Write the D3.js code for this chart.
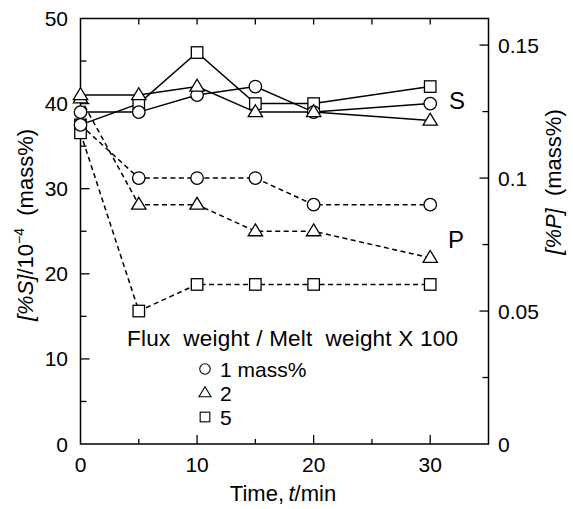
<!DOCTYPE html>
<html><head><meta charset="utf-8">
<script src="https://cdn.jsdelivr.net/npm/d3@7"></script>
<style>
body{margin:0;background:#fff;}
svg{display:block;font-family:"Liberation Sans",Arial,Helvetica,sans-serif;}
</style></head>
<body><svg id="c" width="573" height="509"></svg>
<script>
const time = [0, 5, 10, 15, 20, 30];
const S1 = [39, 39, 41, 42, 39, 40];
const S2 = [41, 41, 42, 39, 39, 38];
const S5 = [37.5, 40, 46, 40, 40, 42];
const P1 = [0.12, 0.10, 0.10, 0.10, 0.09, 0.09];
const P2 = [0.13, 0.09, 0.09, 0.08, 0.08, 0.07];
const P5 = [0.117, 0.05, 0.06, 0.06, 0.06, 0.06];
const xTicks = [0, 10, 20, 30];
const yLeftTicks = [0, 10, 20, 30, 40, 50];
const yRightTicks = [0, 0.05, 0.1, 0.15];
const yRightLabels = ["0", "0.05", "0.1", "0.15"];
const legendTitle = "Flux\u00a0 weight / Melt\u00a0 weight X 100";
const legendItems = [["circle", "1 mass%"], ["triangle", "2"], ["square", "5"]];

const svg = d3.select("#c");
const L = 80.5, R = 488.5, T = 18.5, B = 444;
const x = d3.scaleLinear().domain([0, 35]).range([L, R]);
const yS = d3.scaleLinear().domain([0, 50]).range([B, T]);
const yP = d3.scaleLinear().domain([0, 0.16]).range([B, T]);
const fs = 21;

// frame
svg.append("rect").attr("x", L).attr("y", T).attr("width", R - L).attr("height", B - T)
  .attr("fill", "none").attr("stroke", "#000").attr("stroke-width", 1.5);

const g = svg.append("g").attr("stroke", "#000").attr("stroke-width", 1.3);
d3.range(5, 35, 5).forEach(v => {
  const len = v % 10 === 0 ? 9 : 5;
  g.append("line").attr("x1", x(v)).attr("x2", x(v)).attr("y1", B).attr("y2", B - len);
  g.append("line").attr("x1", x(v)).attr("x2", x(v)).attr("y1", T).attr("y2", T + 6);
});
d3.range(5, 50, 5).forEach(v => {
  const len = v % 10 === 0 ? 9 : 6;
  g.append("line").attr("x1", L).attr("x2", L + len).attr("y1", yS(v)).attr("y2", yS(v));
});
d3.range(0.025, 0.16, 0.025).forEach(v => {
  const major = Math.abs(v / 0.05 - Math.round(v / 0.05)) < 1e-6;
  g.append("line").attr("x1", R).attr("x2", R - (major ? 9 : 6)).attr("y1", yP(v)).attr("y2", yP(v));
});

// tick labels
svg.append("g").selectAll("text").data(xTicks).join("text")
  .attr("x", d => x(d)).attr("y", 472).attr("text-anchor", "middle")
  .attr("font-size", fs).text(d => d);
svg.append("g").selectAll("text").data(yLeftTicks).join("text")
  .attr("x", 68).attr("y", d => yS(d) + 7.5).attr("text-anchor", "end")
  .attr("font-size", fs).text(d => d);
svg.append("g").selectAll("text").data(yRightTicks).join("text")
  .attr("x", 498).attr("y", d => yP(d) + 7.5).attr("text-anchor", "start")
  .attr("font-size", fs).text((d, i) => yRightLabels[i]);

// axis titles
const xt = svg.append("text").attr("x", 283).attr("y", 501).attr("text-anchor", "middle").attr("font-size", 22);
xt.append("tspan").text("Time,\u2009");
xt.append("tspan").attr("font-style", "italic").text("t");
xt.append("tspan").text("/min");

const lt = svg.append("text").attr("transform", "translate(33,225) rotate(-90)")
  .attr("text-anchor", "middle").attr("font-size", 22);
lt.append("tspan").attr("font-style", "italic").text("[%S]");
lt.append("tspan").text("/10");
lt.append("tspan").attr("font-size", 14).attr("dy", -9).text("\u22124");
lt.append("tspan").attr("dy", 9).text("\u00a0 (mass%)");

const rt = svg.append("text").attr("transform", "translate(561,182) rotate(-90)")
  .attr("text-anchor", "middle").attr("font-size", 22);
rt.append("tspan").attr("font-style", "italic").text("[%P]");
rt.append("tspan").text("\u00a0 (mass%)");

// markers
function marker(sel, type, cx, cy, s) {
  if (type === "circle") {
    sel.append("circle").attr("cx", cx).attr("cy", cy).attr("r", s * 0.5);
  } else if (type === "square") {
    sel.append("rect").attr("x", cx - s * 0.46).attr("y", cy - s * 0.46).attr("width", s * 0.92).attr("height", s * 0.92);
  } else {
    const h = s * 0.95, w = s * 1.15;
    sel.append("path").attr("d", `M${cx},${cy - h * 0.62}L${cx + w / 2},${cy + h * 0.38}L${cx - w / 2},${cy + h * 0.38}Z`);
  }
}

const series = {
  P5: {v: P5, y: yP, type: "square", dash: "5,3.5"},
  P2: {v: P2, y: yP, type: "triangle", dash: "5,3.5"},
  P1: {v: P1, y: yP, type: "circle", dash: "5,3.5"},
  S5: {v: S5, y: yS, type: "square", dash: null},
  S1: {v: S1, y: yS, type: "circle", dash: null},
  S2: {v: S2, y: yS, type: "triangle", dash: null}
};
const lineOrder = ["P5", "P2", "P1", "S5", "S1", "S2"];
const markerOrder = ["S5", "P5", "P1", "S1", "P2", "S2"];
const line = (ys) => d3.line().x((d, i) => x(time[i])).y(d => ys(d));
const lg = svg.append("g").attr("fill", "none").attr("stroke", "#000").attr("stroke-width", 1.5);
lineOrder.forEach(k => {
  const s = series[k];
  lg.append("path").attr("d", line(s.y)(s.v)).attr("stroke-dasharray", s.dash);
});
const mg = svg.append("g").attr("fill", "#fff").attr("stroke", "#000").attr("stroke-width", 1.3);
markerOrder.forEach(k => {
  const s = series[k];
  s.v.forEach((d, i) => marker(mg, s.type, x(time[i]), s.y(d), 12.5));
});

// S / P labels
svg.append("text").attr("x", 457).attr("y", 109).attr("text-anchor", "middle").attr("font-size", 24).text("S");
svg.append("text").attr("x", 456).attr("y", 248).attr("text-anchor", "middle").attr("font-size", 24).text("P");

// legend
svg.append("text").attr("x", 127).attr("y", 346).attr("font-size", 22.5).attr("textLength", 331)
  .attr("lengthAdjust", "spacing").text(legendTitle);
const lgm = svg.append("g").attr("fill", "#fff").attr("stroke", "#000").attr("stroke-width", 1.1);
legendItems.forEach((it, i) => {
  const cy = 369 + i * 24;
  marker(lgm, it[0], 205, cy, 10.5);
  svg.append("text").attr("x", 220).attr("y", cy + 7.5).attr("font-size", 21).text(it[1]);
});
</script></body></html>
